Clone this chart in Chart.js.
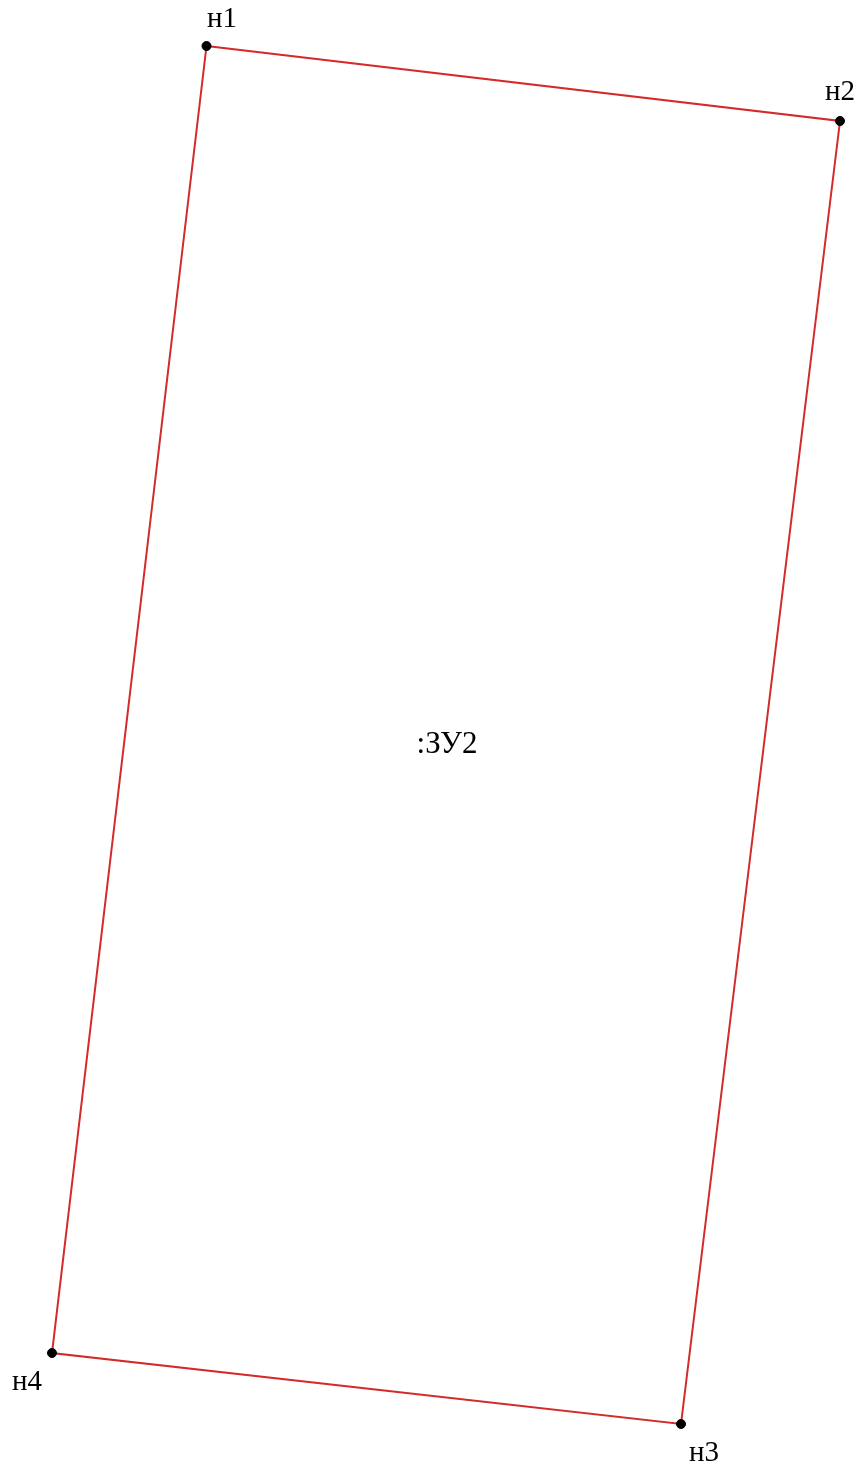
<!DOCTYPE html>
<html><head><meta charset="utf-8">
<script src="https://cdn.jsdelivr.net/npm/chart.js@4"></script>
<style>html,body{margin:0;padding:0;background:#fff;}canvas{display:block;}</style>
</head><body>
<canvas id="c" width="862" height="1470"></canvas>
<script>
const pointNames = ['н1','н2','н3','н4'];
const pointX = [206.5, 840, 681, 52];
const pointY = [46, 121, 1424, 1353];
const labelX = [222, 840, 704, 27];
const labelY = [19, 92, 1453, 1382];
const areaName = ':ЗУ2';
const areaX = 447;
const areaY = 745;

const pts = pointX.map((x,i)=>({x, y: pointY[i]}));
const ring = pts.concat([pts[0]]);

const labelsPlugin = {
  id:'labels',
  afterDatasetsDraw(chart){
    const {ctx, scales:{x, y}} = chart;
    ctx.save();
    ctx.fillStyle = '#000';
    ctx.textAlign = 'center';
    ctx.textBaseline = 'middle';
    ctx.font = '29px "Liberation Serif", "DejaVu Serif", serif';
    pointNames.forEach((n,i)=>{
      ctx.fillText(n, x.getPixelForValue(labelX[i]), y.getPixelForValue(labelY[i]));
    });
    ctx.font = '31px "Liberation Serif", "DejaVu Serif", serif';
    ctx.fillText(areaName, x.getPixelForValue(areaX), y.getPixelForValue(areaY));
    ctx.restore();
  }
};

new Chart(document.getElementById('c'), {
  type:'scatter',
  data:{datasets:[
    {data: ring, order:2, showLine:true, borderColor:'#d42a2a', borderWidth:2, pointRadius:0, fill:false, tension:0},
    {data: pts, order:1, showLine:false, pointRadius:4.5, pointBackgroundColor:'#000', pointBorderColor:'#000', pointBorderWidth:1}
  ]},
  options:{
    responsive:false, devicePixelRatio:1, animation:false,
    layout:{padding:0, autoPadding:false},
    plugins:{legend:{display:false}, tooltip:{enabled:false}},
    scales:{
      x:{type:'linear', min:0, max:862, display:false},
      y:{type:'linear', min:0, max:1470, reverse:true, display:false}
    }
  },
  plugins:[labelsPlugin]
});
</script>
</body></html>
